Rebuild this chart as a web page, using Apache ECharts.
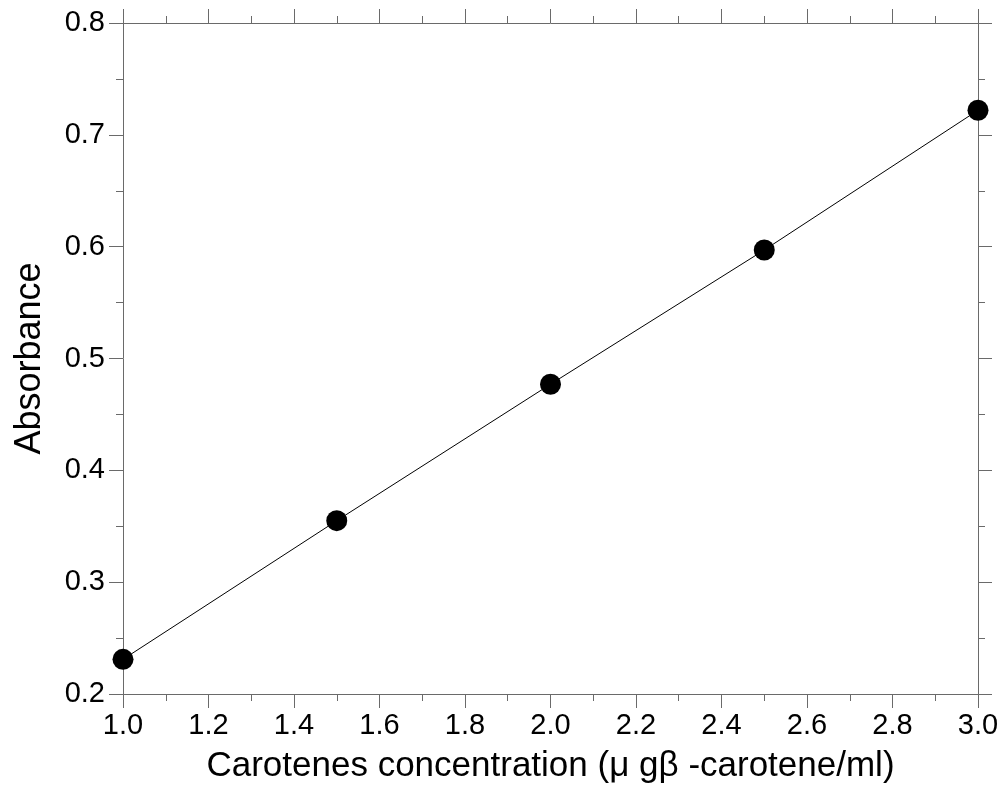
<!DOCTYPE html>
<html>
<head>
<meta charset="utf-8">
<script src="https://cdn.jsdelivr.net/npm/echarts@6/dist/echarts.min.js"></script>
<style>html,body{margin:0;padding:0;background:#fff}#c{width:1005px;height:793px}</style>
</head>
<body>
<div id="c"></div>
<script>
const concentration = [1.0, 1.5, 2.0, 2.5, 3.0];
const absorbance = [0.231, 0.355, 0.477, 0.597, 0.722];
const xTitle = 'Carotenes concentration (\u03bc g\u03b2 -carotene/ml)';
const yTitle = 'Absorbance';

const axisColor = '#6a6a6a';
const font = 'Arial, "Liberation Sans", sans-serif';
const chart = echarts.init(document.getElementById('c'), null, {renderer: 'canvas'});

function xAx(pos, showLabel) {
  return {
    type: 'value', position: pos, min: 1.0, max: 3.0, interval: 0.2,
    name: showLabel ? xTitle : '', nameLocation: 'middle', nameGap: 55,
    nameTextStyle: {fontFamily: font, fontSize: 35, color: '#000'},
    axisLine: {show: true, lineStyle: {color: axisColor, width: 1}},
    axisTick: {show: true, length: 14, lineStyle: {color: axisColor, width: 1}},
    minorTick: {show: true, splitNumber: 2, length: 7, lineStyle: {color: axisColor, width: 1}},
    axisLabel: {show: showLabel, fontFamily: font, fontSize: 29, color: '#000', margin: 17,
      formatter: v => v.toFixed(1)},
    splitLine: {show: false}
  };
}
function yAx(pos, showLabel) {
  return {
    type: 'value', position: pos, min: 0.2, max: 0.8, interval: 0.1,
    name: showLabel ? yTitle : '', nameLocation: 'middle', nameGap: 75,
    nameTextStyle: {fontFamily: font, fontSize: 36, color: '#000'},
    axisLine: {show: true, lineStyle: {color: axisColor, width: 1}},
    axisTick: {show: true, length: 14, lineStyle: {color: axisColor, width: 1}},
    minorTick: {show: true, splitNumber: 2, length: 7, lineStyle: {color: axisColor, width: 1}},
    axisLabel: {show: showLabel, fontFamily: font, fontSize: 29, color: '#000', margin: 18,
      formatter: v => v.toFixed(1)},
    splitLine: {show: false}
  };
}

chart.setOption({
  animation: false,
  backgroundColor: '#fff',
  grid: {left: 123, right: 27, top: 23, bottom: 99, containLabel: false},
  xAxis: [xAx('bottom', true), xAx('top', false)],
  yAxis: [yAx('left', true), yAx('right', false)],
  series: [{
    type: 'line',
    xAxisIndex: 0, yAxisIndex: 0,
    data: concentration.map((x, i) => [x, absorbance[i]]),
    symbol: 'circle', symbolSize: 21,
    itemStyle: {color: '#000'},
    lineStyle: {color: '#000', width: 1},
    clip: false
  }]
});
</script>
</body>
</html>
